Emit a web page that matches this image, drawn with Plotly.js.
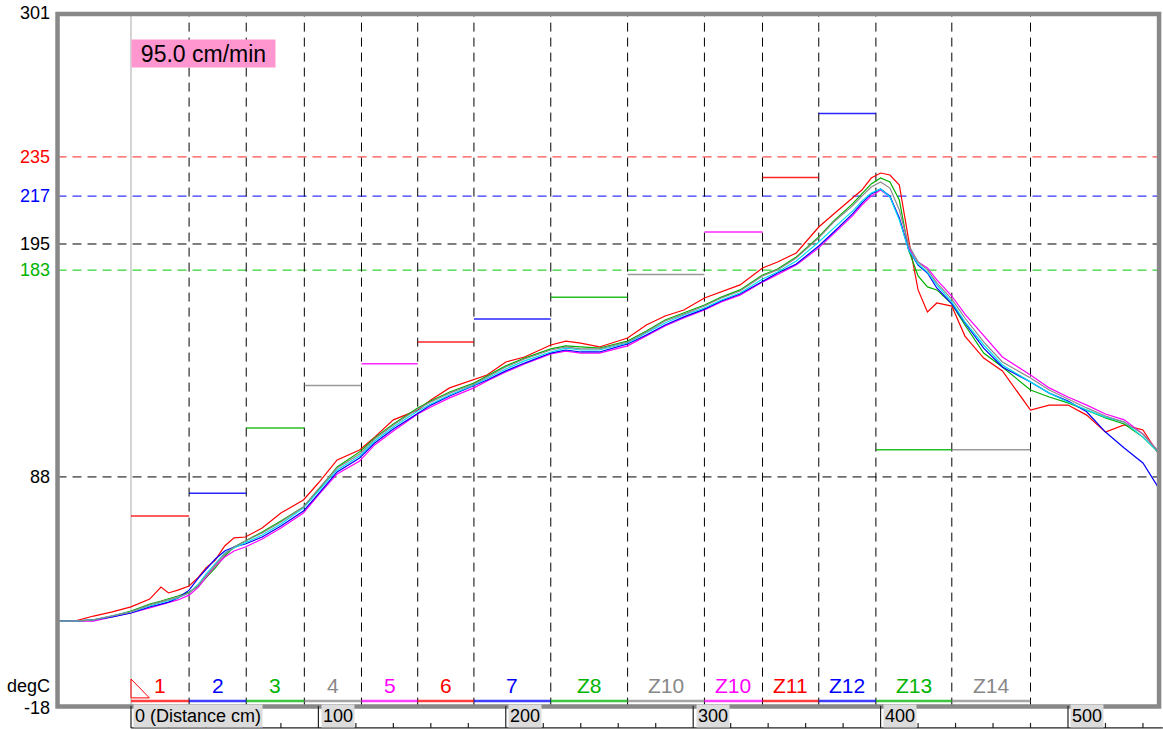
<!DOCTYPE html>
<html>
<head>
<meta charset="utf-8">
<script src="https://cdn.plot.ly/plotly-3.0.1.min.js"></script>
<style>html,body{margin:0;padding:0;background:#fff;}#chart{width:1163px;height:730px;}</style>
</head>
<body>
<div id="chart"></div>
<script>
// ---------- DATA ----------
const distance = [-39,-30,-20,-10,0,10,16,20,25,31,36,40,45,50,55,61,70,80,92,100,110,122,130,140,153,160,170,183,190,200,210,224,232,240,250,265,275,285,295,306,315,325,337,345,355,367,375,385,390,395,400,405,410,415,420,425,430,438,445,455,465,480,490,500,510,520,530,540,548];

const tcRed = [21.8,21.8,24.1,26.0,28.3,31.9,37.4,34.7,36.0,37.9,
  42.0,46.2,49.8,56.3,60.0,60.4,64.5,71.4,77.4,85.2,
  95.8,100.4,106.3,114.2,118.7,123.3,128.9,132.5,134.8,140.8,
  143.1,148.6,150.4,149.5,147.7,151.8,157.8,161.9,164.7,170.2,
  172.9,176.2,184.0,186.7,190.9,202.8,208.8,216.1,219.8,225.3,
  227.6,226.7,222.1,196.8,173.9,163.8,167.9,166.5,152.7,142.6,
  136.7,118.7,121.0,121.0,116.4,108.6,111.9,109.6,99.0];

const tcGreen = [21.8,21.8,22.3,24.1,26.4,29.6,31.0,31.9,33.3,35.1,
  37.9,41.6,46.2,51.7,55.8,58.6,62.7,67.8,74.2,82.0,
  92.6,99.5,105.9,112.3,119.7,122.9,127.0,131.1,134.4,139.0,
  142.6,146.8,148.2,147.7,147.2,150.4,155.0,160.1,163.3,167.0,
  170.6,173.9,180.8,183.5,189.0,198.2,205.6,213.4,218.0,222.6,
  225.3,223.5,215.2,192.2,180.3,175.3,173.9,167.5,157.8,144.9,
  138.5,127.9,124.7,122.0,118.7,115.1,112.3,106.3,99.5];

const tcGray = [21.8,21.8,22.3,24.1,26.0,29.2,30.5,31.5,32.8,34.7,
  38.3,42.5,47.5,52.6,55.8,58.6,62.2,67.3,74.2,82.5,
  92.1,98.5,105.4,111.9,119.2,122.4,126.5,130.7,133.9,138.5,
  142.2,146.3,147.7,146.8,146.8,150.0,154.6,159.6,162.8,166.5,
  170.2,173.4,180.3,183.1,188.6,197.8,205.1,212.5,217.0,221.2,
  223.5,220.7,210.6,194.5,186.7,183.1,177.1,169.7,161.0,150.0,
  140.8,133.4,127.9,123.8,119.7,116.0,113.2,107.7,99.9];

const tcBlue = [21.8,21.8,22.3,23.7,25.5,28.3,29.6,30.5,32.4,36.0,
  41.6,45.7,50.3,54.0,55.8,57.2,60.4,65.5,72.3,80.2,
  90.3,96.7,103.6,110.0,117.4,121.0,125.2,129.8,132.5,136.7,
  140.3,144.9,146.3,145.4,145.4,149.1,153.2,157.8,161.5,165.1,
  168.8,172.0,178.0,181.7,185.8,194.1,200.5,208.8,213.8,218.0,
  220.3,217.0,206.9,192.2,185.3,181.7,174.8,167.5,158.7,147.2,
  138.5,131.6,126.5,122.9,117.9,108.6,101.3,94.4,83.4];

const tcCyan = [21.8,21.8,22.3,24.1,26.0,28.7,30.1,31.0,32.4,34.7,
  38.8,43.4,48.5,53.1,55.4,57.7,61.3,66.4,73.7,81.5,
  91.2,97.6,104.5,110.9,118.3,121.5,125.6,130.2,133.4,137.6,
  141.3,145.4,147.2,146.3,146.3,149.5,154.1,158.7,162.4,165.6,
  169.3,172.5,178.9,182.1,187.2,195.9,202.3,210.1,214.7,218.4,
  220.3,216.6,206.0,192.2,185.8,182.1,176.2,168.4,159.2,148.6,
  139.4,131.6,126.5,122.4,118.7,115.5,113.2,106.3,99.5];

const tcMagenta = [21.8,21.8,21.8,23.7,25.5,27.8,29.2,30.1,31.5,33.7,
  37.4,42.0,47.1,51.2,54.0,55.8,59.5,64.5,71.4,79.7,
  89.4,95.3,102.7,109.1,116.9,120.1,124.3,128.9,132.1,136.2,
  139.9,144.5,145.8,144.9,144.9,148.2,152.7,157.3,161.0,164.7,
  168.4,171.5,177.5,180.8,185.3,193.2,199.6,207.9,212.9,217.0,
  219.8,216.6,206.9,193.2,186.7,184.0,178.5,171.1,162.8,152.7,
  143.1,134.8,128.9,124.7,121.0,116.9,114.2,107.7,99.9];

const zoneNames = ['1','2','3','4','5','6','7','Z8','Z10','Z10','Z11','Z12','Z13','Z14'];
const zoneEdges = [0,31,61.5,92.5,123,153,183,224,265,306,337,367,397.5,438,480];
const zoneSetpoints = [70,80.5,110.5,130,140,150,160.5,170.5,181,200.5,225.5,255,100.5,100.5];
const zoneColors = ['#ff0000','#0000ff','#00b400','#888888','#ff00ff','#ff0000','#0000ff','#00b400','#888888','#ff00ff','#ff0000','#0000ff','#00b400','#888888'];

const limitValues = [235,217,195,183,88];
const limitColors = ['#ff2020','#0000ff','#000000','#00c800','#000000'];

const yLabelValues = [301,235,217,195,183,88,-18];
const yLabelColors = ['#000000','#ff0000','#0000ff','#000000','#00b400','#000000','#000000'];

const xMajorTicks = [0,100,200,300,400,500];
const xMajorLabels = ['0 (Distance cm)','100','200','300','400','500'];
const xMinorStep = 20;
const speedLabel = '95.0 cm/min';
const unitLabel = 'degC';

// ---------- GEOMETRY (layout only) ----------
const X_LEFT = -39.2, X_RIGHT = 548.6, Y_BOT = -17.5, Y_TOP = 300.6;
const FONT = 'Liberation Sans, Arial, Helvetica, sans-serif';

const traces = [];
const seriesDefs = [
  [tcRed,'#ff0000'],[tcGreen,'#00b000'],[tcMagenta,'#ff00ff'],
  [tcBlue,'#0000ff'],[tcCyan,'#00e0f0'],[tcGray,'#8a8a8a']
];
for (let i = 0; i < zoneNames.length; i++) {
  traces.push({x:[zoneEdges[i], zoneEdges[i+1]], y:[zoneSetpoints[i], zoneSetpoints[i]],
    mode:'lines', line:{color:zoneColors[i], width:1.5}, opacity:0.85, hoverinfo:'skip'});
}
seriesDefs.forEach(([ys,c]) => {
  traces.push({x:distance, y:ys, mode:'lines', line:{color:c, width:1.2}, hoverinfo:'skip'});
});

const shapes = [];
limitValues.forEach((v,i) => shapes.push({type:'line', xref:'x', yref:'y', x0:X_LEFT, x1:X_RIGHT, y0:v, y1:v,
  line:{color:limitColors[i], width:1, dash:'9px,6px'}, layer:'below'}));
shapes.push({type:'line', xref:'x', yref:'y', x0:0, x1:0, y0:Y_BOT, y1:Y_TOP, line:{color:'#aaaaaa', width:1}, layer:'below'});
for (let i = 1; i < zoneEdges.length; i++) {
  shapes.push({type:'line', xref:'x', yref:'y', x0:zoneEdges[i], x1:zoneEdges[i], y0:Y_BOT, y1:Y_TOP,
    line:{color:'#000000', width:1, dash:'9px,6px'}, layer:'below'});
}
for (let i = 0; i < zoneNames.length; i++) {
  shapes.push({type:'line', xref:'x', yref:'y', x0:zoneEdges[i], x1:zoneEdges[i+1], y0:-14.9, y1:-14.9,
    line:{color:zoneColors[i], width:2.5}, opacity:0.75});
}
shapes.push({type:'path', xref:'x', yref:'y', path:'M 0 -4.8 L 0 -13.5 L 9.8 -13.5 Z', line:{color:'#ff0000', width:1}});
shapes.push({type:'rect', xref:'x', yref:'y', x0:X_LEFT, x1:X_RIGHT, y0:Y_BOT, y1:Y_TOP, line:{color:'#888888', width:4.5}});
shapes.push({type:'line', xref:'x', yref:'y', x0:0, x1:X_RIGHT+2, y0:-27.3, y1:-27.3, line:{color:'#222', width:1.3}});
for (let t = 0; t <= 540; t += xMinorStep) {
  const major = xMajorTicks.indexOf(t) >= 0;
  shapes.push({type:'line', xref:'x', yref:'y', x0:t, x1:t, y0:major ? -17.2 : -25.0, y1:-27.3, line:{color:'#222', width:1.2}});
}

const annotations = [];
yLabelValues.forEach((v,i) => annotations.push({x:-42.2, y:v, xref:'x', yref:'y', text:String(v), showarrow:false,
  xanchor:'right', yanchor:'middle', font:{family:FONT, size:18, color:yLabelColors[i]}}));
annotations.push({x:-42.2, y:-8.0, xref:'x', yref:'y', text:unitLabel, showarrow:false, xanchor:'right', yanchor:'middle',
  font:{family:FONT, size:18, color:'#000'}});
for (let i = 0; i < zoneNames.length; i++) {
  annotations.push({x:(zoneEdges[i]+zoneEdges[i+1])/2, y:-8.0, xref:'x', yref:'y', text:zoneNames[i], showarrow:false,
    xanchor:'center', yanchor:'middle', font:{family:FONT, size:21, color:zoneColors[i]}});
}
xMajorTicks.forEach((t,i) => annotations.push({x:t, y:-22.0, xref:'x', yref:'y', text:xMajorLabels[i], showarrow:false,
  xanchor:'left', yanchor:'middle', xshift:2.5, bgcolor:'#dcdcdc', borderpad:1, font:{family:FONT, size:18, color:'#000'}}));
annotations.push({x:0, y:282.5, xref:'x', yref:'y', text:speedLabel, showarrow:false, xanchor:'left', yanchor:'middle',
  width:143, height:27, borderpad:0, bgcolor:'#ff96d0', font:{family:FONT, size:23, color:'#000'}});

const layout = {
  width:1163, height:730, margin:{l:0, r:0, t:0, b:0},
  paper_bgcolor:'#ffffff', plot_bgcolor:'#ffffff', showlegend:false,
  xaxis:{range:[-69.9, 550.7], visible:false, fixedrange:true},
  yaxis:{range:[-28.25, 307.08], visible:false, fixedrange:true},
  shapes:shapes, annotations:annotations
};
Plotly.newPlot('chart', traces, layout, {displayModeBar:false, staticPlot:true});
</script>
</body>
</html>
